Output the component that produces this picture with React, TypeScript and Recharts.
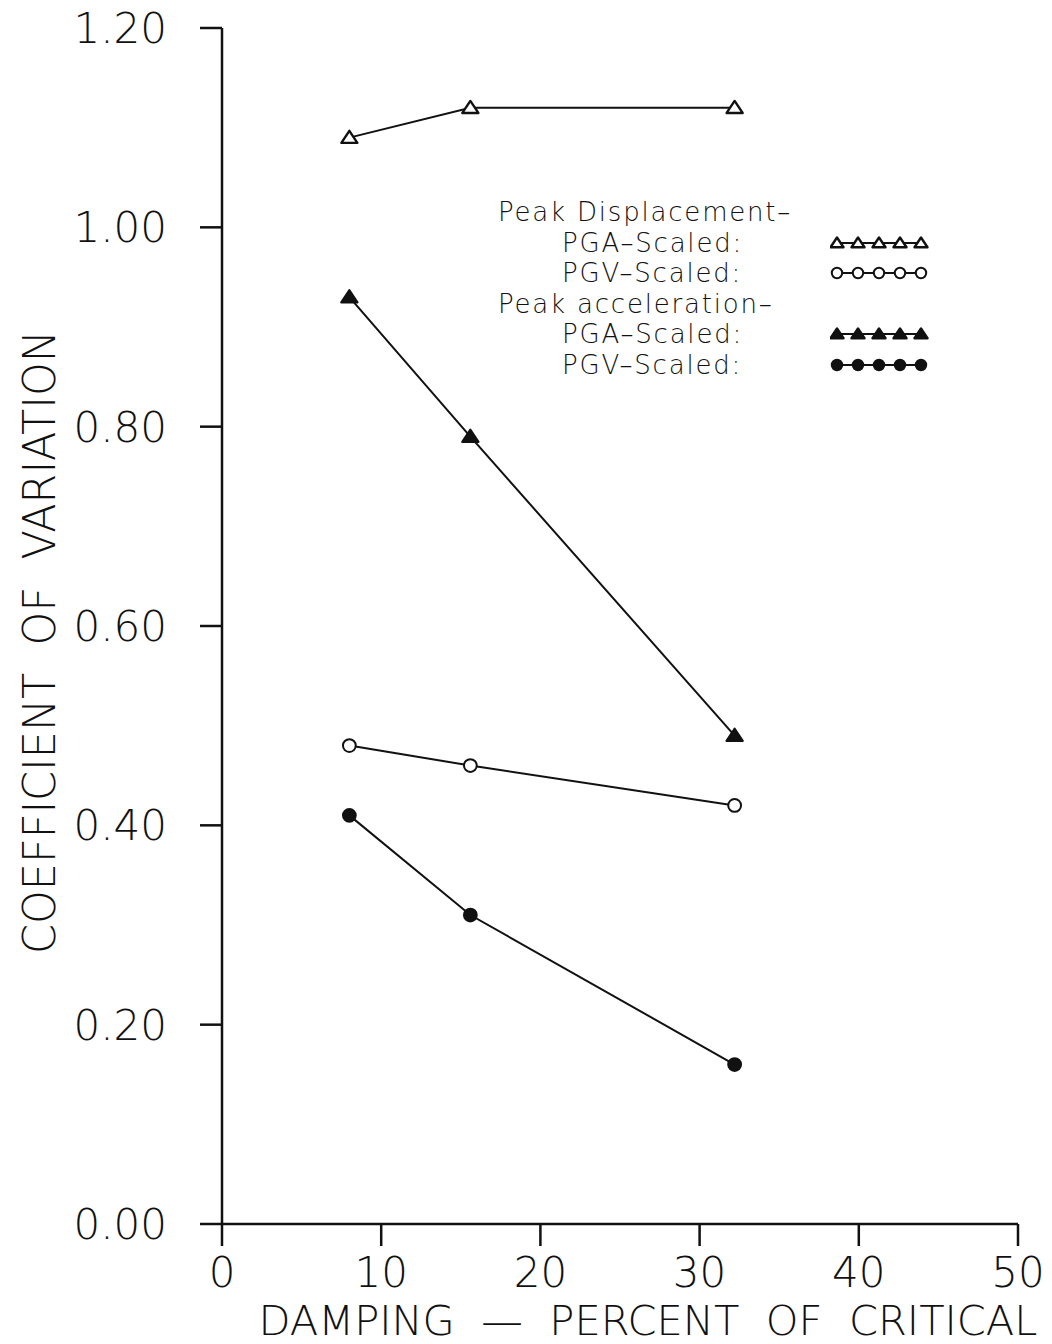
import { LineChart, Line, XAxis, YAxis, Label } from "recharts";

const damping = [8, 15.6, 32.2];
const dispPga = [1.09, 1.12, 1.12];
const dispPgv = [0.48, 0.46, 0.42];
const accPga = [0.93, 0.79, 0.49];
const accPgv = [0.41, 0.31, 0.16];

const xTicks = [0, 10, 20, 30, 40, 50];
const yTicks = [0, 0.2, 0.4, 0.6, 0.8, 1.0, 1.2];

const xTitle = "DAMPING  —  PERCENT  OF  CRITICAL";
const yTitle = "COEFFICIENT  OF  VARIATION";

const legendRows = [
  { text: "Peak Displacement–", indent: false, marker: null },
  { text: "PGA–Scaled:", indent: true, marker: "triOpen" },
  { text: "PGV–Scaled:", indent: true, marker: "circOpen" },
  { text: "Peak acceleration–", indent: false, marker: null },
  { text: "PGA–Scaled:", indent: true, marker: "triFilled" },
  { text: "PGV–Scaled:", indent: true, marker: "circFilled" },
];

const data = damping.map((d, i) => ({
  damping: d,
  dispPga: dispPga[i],
  dispPgv: dispPgv[i],
  accPga: accPga[i],
  accPgv: accPgv[i],
}));

const FONT = "'DejaVu Sans', sans-serif";
const INK = "#111";

function Marker({ kind, cx, cy, s = 8 }: { kind: string; cx?: number; cy?: number; s?: number }) {
  if (cx == null || cy == null) return null;
  if (kind === "triOpen" || kind === "triFilled") {
    const pts = `${cx},${cy - s * 0.85} ${cx - s},${cy + s * 0.65} ${cx + s},${cy + s * 0.65}`;
    return <polygon points={pts} fill={kind === "triFilled" ? INK : "#fff"} stroke={INK} strokeWidth={2.4} strokeLinejoin="round" />;
  }
  const r = s * 0.8;
  return <circle cx={cx} cy={cy} r={r} fill={kind === "circFilled" ? INK : "#fff"} stroke={INK} strokeWidth={2} />;
}

function dotFor(kind: string) {
  return (props: any) => <Marker key={`${kind}-${props.index}`} kind={kind} cx={props.cx} cy={props.cy} />;
}

function Swatch({ kind }: { kind: string }) {
  const xs = [7, 28, 49, 70, 91];
  return (
    <svg width={100} height={20} style={{ position: "absolute", left: 332, top: 5 }}>
      <line x1={7} x2={91} y1={10} y2={10} stroke={INK} strokeWidth={2} />
      {xs.map((x) => (
        <Marker key={x} kind={kind} cx={x} cy={10} s={6.5} />
      ))}
    </svg>
  );
}

export default function App() {
  return (
    <div style={{ position: "absolute", left: 0, top: 0, width: 1052, height: 1344, background: "#fff" }}>
      <LineChart
        width={1052}
        height={1344}
        data={data}
        margin={{ top: 28, right: 34, bottom: 0, left: 0 }}
        style={{ fontFamily: FONT }}
      >
        <XAxis
          xAxisId="bottom"
          dataKey="damping"
          type="number"
          domain={[0, 50]}
          ticks={xTicks}
          height={120}
          tickSize={22}
          tickMargin={11}
          stroke={INK}
          strokeWidth={2.5}
          tick={{ fill: INK, fontSize: 42, fontWeight: 200 }}
        >
          <Label
            content={() => (
              <text
                x={648}
                y={1335}
                textAnchor="middle"
                fill={INK}
                fontSize={41}
                fontWeight={200}
                textLength={779}
                lengthAdjust="spacingAndGlyphs"
                style={{ whiteSpace: "pre" }}
              >
                {xTitle}
              </text>
            )}
          />
        </XAxis>
        <XAxis
          xAxisId="top"
          orientation="top"
          dataKey="damping"
          type="number"
          domain={[0, 50]}
          ticks={xTicks}
          height={0}
          mirror
          tickSize={15}
          tickFormatter={() => ""}
          stroke={INK}
          strokeWidth={2.5}
        />
        <YAxis
          yAxisId="left"
          type="number"
          domain={[0, 1.2]}
          ticks={yTicks}
          width={222}
          tickSize={22}
          tickMargin={33}
          stroke={INK}
          strokeWidth={2.5}
          tickFormatter={(v: number) => v.toFixed(2)}
          tick={{ fill: INK, fontSize: 42, fontWeight: 200 }}
        >
          <Label
            content={() => (
              <text
                x={55}
                y={642}
                transform="rotate(-90 55 642)"
                textAnchor="middle"
                fill={INK}
                fontSize={45}
                fontWeight={200}
                textLength={624}
                lengthAdjust="spacingAndGlyphs"
                style={{ whiteSpace: "pre" }}
              >
                {yTitle}
              </text>
            )}
          />
        </YAxis>
        <YAxis
          yAxisId="right"
          orientation="right"
          type="number"
          domain={[0, 1.2]}
          ticks={yTicks}
          width={0}
          mirror
          tickSize={15}
          tickFormatter={() => ""}
          stroke={INK}
          strokeWidth={2.5}
        />
        <Line xAxisId="bottom" yAxisId="left" dataKey="dispPga" stroke={INK} strokeWidth={2} dot={dotFor("triOpen")} isAnimationActive={false} />
        <Line xAxisId="bottom" yAxisId="left" dataKey="dispPgv" stroke={INK} strokeWidth={2} dot={dotFor("circOpen")} isAnimationActive={false} />
        <Line xAxisId="bottom" yAxisId="left" dataKey="accPga" stroke={INK} strokeWidth={2} dot={dotFor("triFilled")} isAnimationActive={false} />
        <Line xAxisId="bottom" yAxisId="left" dataKey="accPgv" stroke={INK} strokeWidth={2} dot={dotFor("circFilled")} isAnimationActive={false} />
      </LineChart>
      <div
        style={{
          position: "absolute",
          left: 498,
          top: 197,
          width: 440,
          fontFamily: FONT,
          fontSize: 26,
          fontWeight: 200,
          letterSpacing: 1.8,
          color: INK,
        }}
      >
        {legendRows.map((row, i) => (
          <div key={i} style={{ position: "relative", height: 30.5, lineHeight: "30.5px", whiteSpace: "pre" }}>
            <span style={{ paddingLeft: row.indent ? 64 : 0 }}>{row.text}</span>
            {row.marker && <Swatch kind={row.marker} />}
          </div>
        ))}
      </div>
    </div>
  );
}
